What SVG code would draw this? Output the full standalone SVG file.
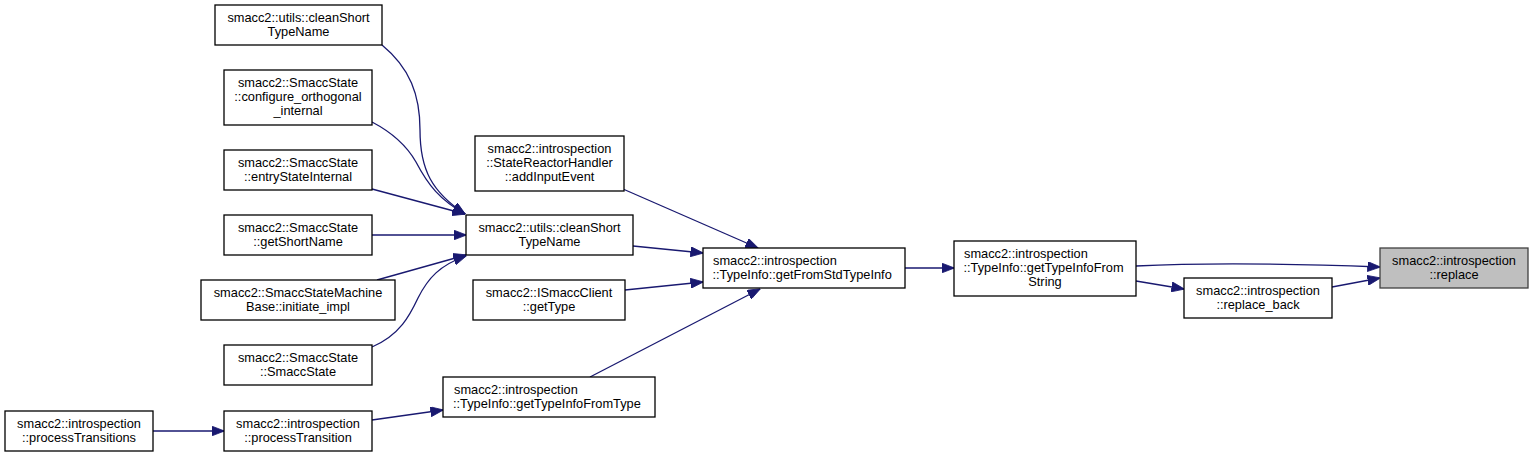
<svg xmlns="http://www.w3.org/2000/svg" width="1533" height="457" viewBox="0 0 1533 457">
<style>
.n rect{fill:#ffffff;stroke:#000000;stroke-width:1.3}
.n.hl rect{fill:#bfbfbf;stroke:#404040}
.n text{font-family:"Liberation Sans",Arial,Helvetica,sans-serif;font-size:12.8px;fill:#000000}
.c{text-anchor:middle}
.l{text-anchor:start}
#edges path{fill:none;stroke:#191970;stroke-width:1.3;marker-end:url(#ah)}
</style>
<defs>
<marker id="ah" viewBox="0 0 13 10" refX="12.5" refY="5" markerWidth="13" markerHeight="10" markerUnits="userSpaceOnUse" orient="auto">
<path d="M0,0 L13,5 L0,10 z" fill="#191970" stroke="#191970" stroke-width="0.8"/>
</marker>
</defs>
<rect width="1533" height="457" fill="#ffffff"/>
<g id="edges">
<path d="M382,45 C410,68 420,95 420,130 C420,170 432,192 465,214"/>
<path d="M372,122 C395,134 408,148 416,162 C428,185 440,200 465,214"/>
<path d="M372,189 L465,214"/>
<path d="M372,235 L466,235"/>
<path d="M377,280 L466,255"/>
<path d="M372,347 C400,335 410,315 418,298 C428,278 440,265 466,256"/>
<path d="M633,246 L703,253"/>
<path d="M623,189 L758,248"/>
<path d="M625,290 L703,282"/>
<path d="M590,377 L760,289"/>
<path d="M153,431 L224,431"/>
<path d="M372,420 L443,410"/>
<path d="M905,268 L954,268"/>
<path d="M1136,266 C1220,262 1300,264 1380,267"/>
<path d="M1136,281 L1184,289"/>
<path d="M1332,287 L1380,278"/>
</g>
<g id="n1" class="n"><rect x="215" y="5" width="167" height="40"/><text class="c" x="298.5" y="22">smacc2::utils::cleanShort</text><text class="c" x="298.5" y="36">TypeName</text></g>
<g id="n2" class="n"><rect x="224" y="70" width="148" height="55"/><text class="c" x="298" y="87">smacc2::SmaccState</text><text class="c" x="298" y="101">::configure_orthogonal</text><text class="c" x="298" y="115">_internal</text></g>
<g id="n3" class="n"><rect x="224" y="150" width="148" height="40"/><text class="c" x="298" y="167">smacc2::SmaccState</text><text class="c" x="298" y="181">::entryStateInternal</text></g>
<g id="n4" class="n"><rect x="224" y="215" width="148" height="40"/><text class="c" x="298" y="232">smacc2::SmaccState</text><text class="c" x="298" y="246">::getShortName</text></g>
<g id="n5" class="n"><rect x="201" y="280" width="194" height="40"/><text class="c" x="298" y="297">smacc2::SmaccStateMachine</text><text class="c" x="298" y="311">Base::initiate_impl</text></g>
<g id="n6" class="n"><rect x="224" y="345" width="148" height="40"/><text class="c" x="298" y="362">smacc2::SmaccState</text><text class="c" x="298" y="376">::SmaccState</text></g>
<g id="n7" class="n"><rect x="5" y="411" width="148" height="40"/><text class="c" x="79" y="428">smacc2::introspection</text><text class="c" x="79" y="442">::processTransitions</text></g>
<g id="n8" class="n"><rect x="224" y="411" width="148" height="40"/><text class="c" x="298" y="428">smacc2::introspection</text><text class="c" x="298" y="442">::processTransition</text></g>
<g id="n9" class="n"><rect x="443" y="377" width="212" height="40"/><text class="l" x="454" y="394">smacc2::introspection</text><text class="l" x="453" y="408">::TypeInfo::getTypeInfoFromType</text></g>
<g id="n10" class="n"><rect x="475" y="136" width="149" height="55"/><text class="c" x="549.5" y="153">smacc2::introspection</text><text class="c" x="549.5" y="167">::StateReactorHandler</text><text class="c" x="549.5" y="181">::addInputEvent</text></g>
<g id="n11" class="n"><rect x="466" y="215" width="167" height="40"/><text class="c" x="549.5" y="232">smacc2::utils::cleanShort</text><text class="c" x="549.5" y="246">TypeName</text></g>
<g id="n12" class="n"><rect x="473" y="280" width="152" height="40"/><text class="c" x="549" y="297">smacc2::ISmaccClient</text><text class="c" x="549" y="311">::getType</text></g>
<g id="n13" class="n"><rect x="703" y="248" width="202" height="40"/><text class="l" x="713" y="265">smacc2::introspection</text><text class="l" x="712.5" y="279">::TypeInfo::getFromStdTypeInfo</text></g>
<g id="n14" class="n"><rect x="954" y="241" width="182" height="55"/><text class="l" x="964" y="257.5">smacc2::introspection</text><text class="l" x="963.5" y="271.5">::TypeInfo::getTypeInfoFrom</text><text class="c" x="1045" y="285.5">String</text></g>
<g id="n15" class="n"><rect x="1184" y="278" width="148" height="40"/><text class="c" x="1258" y="295">smacc2::introspection</text><text class="c" x="1258" y="309">::replace_back</text></g>
<g id="n16" class="n hl"><rect x="1380" y="248" width="148" height="40"/><text class="c" x="1454" y="265">smacc2::introspection</text><text class="c" x="1454" y="279">::replace</text></g>
</svg>
